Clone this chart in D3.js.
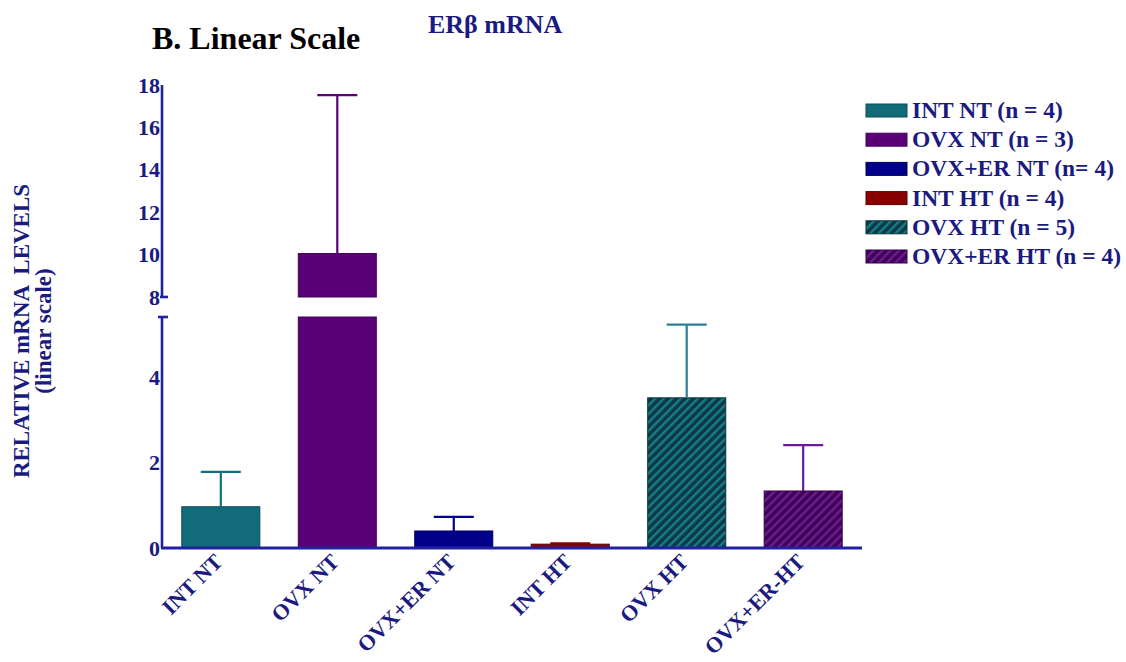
<!DOCTYPE html>
<html>
<head>
<meta charset="utf-8">
<script src="https://cdn.jsdelivr.net/npm/d3@7"></script>
<style>
  html, body { margin: 0; padding: 0; background: #ffffff; }
  svg { display: block; }
  text { font-family: "Liberation Serif", "Times New Roman", serif; font-weight: bold; }
</style>
</head>
<body>
<svg id="chart" width="1126" height="662"></svg>
<script>
// Groups along the x axis
const categories = ["INT NT", "OVX NT", "OVX+ER NT", "INT HT", "OVX HT", "OVX+ER-HT"];
const legendLabels = ["INT NT (n = 4)", "OVX NT (n = 3)", "OVX+ER NT (n= 4)", "INT HT (n = 4)", "OVX HT (n = 5)", "OVX+ER HT (n = 4)"];
// Mean relative ERβ mRNA levels and the upper end of each error bar
const means = [0.97, 10.05, 0.40, 0.09, 3.53, 1.34];
const errorTops = [1.79, 17.52, 0.73, 0.11, 5.25, 2.42];
// Broken y axis: lower segment 0–5.43, upper segment 8–18
const lowTicks = [0, 2, 4];
const highTicks = [8, 10, 12, 14, 16, 18];
const lowDomain = [0, 5.43];
const highDomain = [8, 18];

const fills = ["#116b79", "#5a0077", "#00008a", "#8a0000", "url(#hatchTeal)", "url(#hatchPurple)"];
const outlines = ["#0b4f5a", "#44005c", "#00005e", "#5e0000", "#082f38", "#33004a"];
const errColors = ["#146e7c", "#5a0077", "#00008a", "#8a0000", "#2a7f93", "#6a1a95"];
const textColor = "#1a1a80";
const axisColor = "#2222a0";

const svg = d3.select("#chart");

// Hatch patterns for the HT-treated OVX groups
const defs = svg.append("defs");
function hatch(id, bg, stripe) {
  const p = defs.append("pattern")
    .attr("id", id)
    .attr("patternUnits", "userSpaceOnUse")
    .attr("width", 6).attr("height", 6)
    .attr("patternTransform", "rotate(45)");
  p.append("rect").attr("width", 6).attr("height", 6).attr("fill", bg);
  p.append("rect").attr("width", 2.4).attr("height", 6).attr("fill", stripe);
}
hatch("hatchTeal", "#0b3a45", "#167d8d");
hatch("hatchPurple", "#3e0057", "#6c1d90");

const axisX = 162;
const x = d3.scaleBand().domain(categories).range([axisX, 862]).paddingInner(0.33).paddingOuter(0.17);
const yLow = d3.scaleLinear().domain(lowDomain).range([548, 317]);
const yHigh = d3.scaleLinear().domain(highDomain).range([297, 85]);

// Titles
svg.append("text").attr("x", 152).attr("y", 49)
  .attr("font-size", 32).attr("fill", "#000").text("B. Linear Scale");
svg.append("text").attr("x", 428).attr("y", 33)
  .attr("font-size", 26).attr("fill", textColor).text("ERβ mRNA");

// Y axis title
const yTitle = svg.append("g").attr("fill", textColor).attr("font-size", 23).attr("text-anchor", "middle");
yTitle.append("text").attr("transform", "translate(29,331) rotate(-90)")
  .style("white-space", "pre").text("RELATIVE mRNA  LEVELS");
yTitle.append("text").attr("transform", "translate(51,331) rotate(-90)").text("(linear scale)");

// Bars
const bars = svg.append("g");
categories.forEach((c, i) => {
  const v = means[i];
  const bx = x(c), bw = x.bandwidth();
  const style = sel => sel.attr("fill", fills[i]).attr("stroke", outlines[i]).attr("stroke-width", 1);
  if (v <= lowDomain[1]) {
    bars.append("rect").attr("x", bx).attr("y", yLow(v)).attr("width", bw)
      .attr("height", yLow(0) - yLow(v)).call(style);
  } else {
    bars.append("rect").attr("x", bx).attr("y", yLow(lowDomain[1])).attr("width", bw)
      .attr("height", yLow(0) - yLow(lowDomain[1])).call(style);
    bars.append("rect").attr("x", bx).attr("y", yHigh(v)).attr("width", bw)
      .attr("height", yHigh(highDomain[0]) - yHigh(v)).call(style);
  }
  // Error bar (upper half)
  const scale = v > lowDomain[1] ? yHigh : yLow;
  const cx = bx + bw / 2;
  const e = svg.append("g").attr("stroke", errColors[i]).attr("stroke-width", 2.2);
  e.append("line").attr("x1", cx).attr("x2", cx).attr("y1", scale(v)).attr("y2", scale(errorTops[i]));
  e.append("line").attr("x1", cx - 20).attr("x2", cx + 20).attr("y1", scale(errorTops[i])).attr("y2", scale(errorTops[i]));
});

// Y axes (two segments)
function styleAxis(g) {
  g.select(".domain").remove();
  g.selectAll("text").attr("fill", textColor).attr("font-size", 22)
    .style("font-family", "'Liberation Serif', serif").style("font-weight", "bold");
}
svg.append("g").attr("transform", `translate(${axisX},0)`)
  .call(d3.axisLeft(yHigh).tickValues(highTicks).tickFormat(d3.format("d")).tickSize(0).tickPadding(2))
  .call(styleAxis);
svg.append("g").attr("transform", `translate(${axisX},0)`)
  .call(d3.axisLeft(yLow).tickValues(lowTicks).tickFormat(d3.format("d")).tickSize(0).tickPadding(2))
  .call(styleAxis);

const ax = svg.append("g").attr("stroke", axisColor).attr("stroke-width", 2.6).attr("fill", "none");
ax.append("line").attr("x1", axisX).attr("x2", axisX).attr("y1", yHigh(18)).attr("y2", yHigh(8));
ax.append("line").attr("x1", axisX - 2).attr("x2", axisX + 6).attr("y1", yHigh(8)).attr("y2", yHigh(8));
ax.append("line").attr("x1", axisX).attr("x2", axisX).attr("y1", yLow(lowDomain[1])).attr("y2", yLow(0));
ax.append("line").attr("x1", axisX - 4).attr("x2", axisX + 6).attr("y1", yLow(lowDomain[1])).attr("y2", yLow(lowDomain[1]));
ax.append("line").attr("x1", axisX - 1).attr("x2", 862).attr("y1", yLow(0)).attr("y2", yLow(0)).attr("stroke-width", 3);

// X axis labels
const xAxis = svg.append("g").attr("transform", `translate(0,${yLow(0)})`)
  .call(d3.axisBottom(x).tickSize(0).tickPadding(0));
xAxis.select(".domain").remove();
xAxis.selectAll("text")
  .attr("fill", textColor).attr("font-size", 22)
  .style("font-family", "'Liberation Serif', serif").style("font-weight", "bold")
  .attr("text-anchor", "end")
  .attr("dy", null).attr("y", 0)
  .attr("transform", "translate(3,15) rotate(-45)");

// Legend
const legend = svg.append("g").attr("transform", "translate(866,110.5)");
legendLabels.forEach((lab, i) => {
  const row = legend.append("g").attr("transform", `translate(0,${i * 29.2})`);
  row.append("rect").attr("x", 0).attr("y", -6.5).attr("width", 41).attr("height", 13)
    .attr("fill", fills[i]).attr("stroke", outlines[i]).attr("stroke-width", 1);
  row.append("text").attr("x", 46).attr("y", 7.5).attr("font-size", 23.5)
    .attr("fill", textColor).text(lab);
});
</script>
</body>
</html>
